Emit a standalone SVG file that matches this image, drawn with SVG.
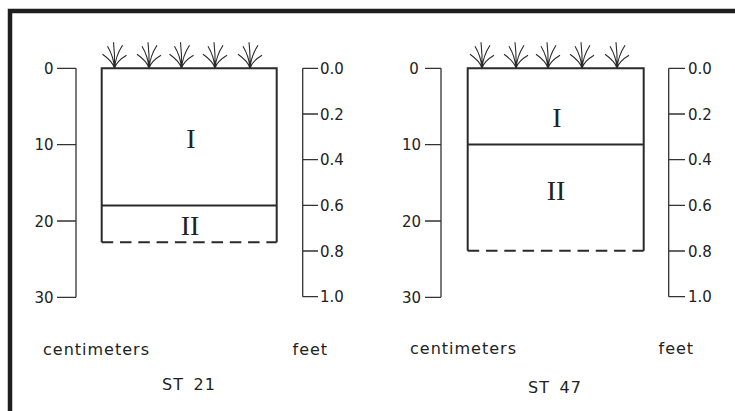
<svg xmlns="http://www.w3.org/2000/svg" width="735" height="411" viewBox="0 0 735 411">
<style>
.frame{fill:none;stroke:#1e1e1e;stroke-width:4.5}
.scale{fill:none;stroke:#333;stroke-width:1.3}
.box{fill:none;stroke:#2a2a2a;stroke-width:2}
.dash{fill:none;stroke:#2a2a2a;stroke-width:2;stroke-dasharray:11.5 6.8}
.tuft{fill:none;stroke:#2a2a2a;stroke-width:1.1}
.num{font-family:"DejaVu Sans",sans-serif;font-size:15px;fill:#222}
.lab{font-family:"DejaVu Sans",sans-serif;font-size:16px;fill:#222;letter-spacing:1px}
.rom{font-family:"Liberation Serif",serif;font-size:28px;fill:#222;text-anchor:middle}
</style>
<defs>
<g id="tuft">
<path class="tuft" d="M0,0 Q0.5,-13 -1,-26 M0,0 Q-1,-12 -7,-22 M0,0 Q-2,-7 -12,-14 M0,0 Q1,-12 8,-23 M0,0 Q2,-7 12,-13"/>
</g>
</defs>
<g id="frame"><path class="frame" d="M10,411 V11 H735"/></g>

<g id="st21">
<g id="st21-cm">
<path class="scale" d="M76,68.3 V297.3 M57,68.3 H76 M57,144.6 H76 M57,221 H76 M57,297.3 H76"/>
<text class="num" x="44" y="73.8">0</text>
<text class="num" x="53.5" y="150.1" text-anchor="end">10</text>
<text class="num" x="53.5" y="226.5" text-anchor="end">20</text>
<text class="num" x="53.5" y="302.8" text-anchor="end">30</text>
</g>
<g id="st21-ft">
<path class="scale" d="M302.7,68.3 V296.7 M302.7,68.3 H318 M302.7,114 H318 M302.7,159.7 H318 M302.7,205.4 H318 M302.7,251 H318 M302.7,296.7 H318"/>
<text class="num" x="320" y="73.8">0.0</text>
<text class="num" x="320" y="119.5">0.2</text>
<text class="num" x="320" y="165.2">0.4</text>
<text class="num" x="320" y="210.9">0.6</text>
<text class="num" x="320" y="256.5">0.8</text>
<text class="num" x="320" y="302.2">1.0</text>
</g>
<g id="st21-profile">
<path class="box" d="M101.7,242.3 V68.3 H276.7 V242.3 M101.7,205.5 H276.7"/>
<path class="dash" d="M101.7,242.3 H276.7"/>
<use href="#tuft" x="114.5" y="68.3"/>
<use href="#tuft" x="149" y="68.3"/>
<use href="#tuft" x="181.5" y="68.3"/>
<use href="#tuft" x="215" y="68.3"/>
<use href="#tuft" x="250" y="68.3"/>
<text class="rom" x="191" y="148">I</text>
<text class="rom" x="190" y="235">II</text>
</g>
<text class="lab" x="43" y="355">centimeters</text>
<text class="lab" x="292.5" y="355">feet</text>
<text class="lab" x="162" y="390" word-spacing="3.5">ST 21</text>
</g>

<g id="st47">
<g id="st47-cm">
<path class="scale" d="M441,68.3 V297.3 M425,68.3 H441 M425,144.6 H441 M425,221 H441 M425,297.3 H441"/>
<text class="num" x="409.3" y="73.8">0</text>
<text class="num" x="421" y="150.1" text-anchor="end">10</text>
<text class="num" x="421" y="226.5" text-anchor="end">20</text>
<text class="num" x="421" y="302.8" text-anchor="end">30</text>
</g>
<g id="st47-ft">
<path class="scale" d="M668.7,68.3 V296.7 M668.7,68.3 H685 M668.7,114 H685 M668.7,159.7 H685 M668.7,205.4 H685 M668.7,251 H685 M668.7,296.7 H685"/>
<text class="num" x="688" y="73.8">0.0</text>
<text class="num" x="688" y="119.5">0.2</text>
<text class="num" x="688" y="165.2">0.4</text>
<text class="num" x="688" y="210.9">0.6</text>
<text class="num" x="688" y="256.5">0.8</text>
<text class="num" x="688" y="302.2">1.0</text>
</g>
<g id="st47-profile">
<path class="box" d="M467.7,250.7 V68.3 H643.7 V250.7 M467.7,144.5 H643.7"/>
<path class="dash" d="M467.7,250.7 H643.7"/>
<use href="#tuft" x="482" y="68.3"/>
<use href="#tuft" x="516" y="68.3"/>
<use href="#tuft" x="548" y="68.3"/>
<use href="#tuft" x="582" y="68.3"/>
<use href="#tuft" x="617" y="68.3"/>
<text class="rom" x="557" y="127">I</text>
<text class="rom" x="556" y="200">II</text>
</g>
<text class="lab" x="410" y="354">centimeters</text>
<text class="lab" x="658.5" y="354">feet</text>
<text class="lab" x="528" y="392.5" word-spacing="3.5">ST 47</text>
</g>
</svg>
